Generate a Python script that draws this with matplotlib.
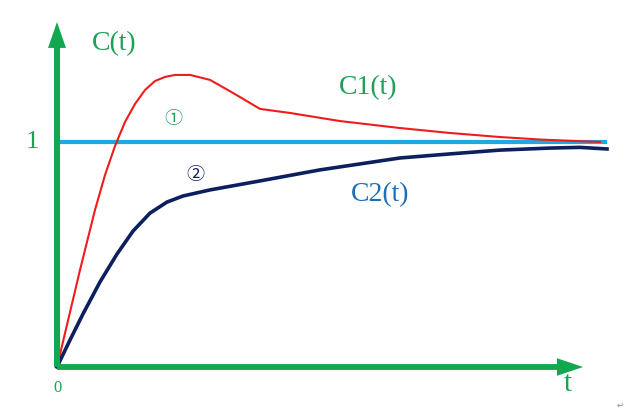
import matplotlib.pyplot as plt

# time axis in arbitrary units, response normalised so the steady value is 1
t_c1 = [0, 0.46, 0.76, 0.96, 1.16, 1.36, 1.56, 1.76, 1.96, 2.16, 2.36, 2.66,
        3.06, 3.52, 4.06, 4.66, 5.66, 6.86, 7.86, 8.86, 9.66, 10.4, 10.86]
c1 = [0, 0.431, 0.698, 0.853, 0.982, 1.089, 1.169, 1.231, 1.271, 1.289, 1.298, 1.298,
      1.276, 1.218, 1.147, 1.129, 1.093, 1.062, 1.04, 1.022, 1.011, 1.004, 1.0]

t_c2 = [0, 0.26, 0.52, 0.86, 1.20, 1.52, 1.86, 2.20, 2.52, 3.06, 4.06, 5.26,
        6.86, 7.86, 8.86, 9.86, 10.46, 11.0]
c2 = [0, 0.12, 0.236, 0.378, 0.502, 0.604, 0.684, 0.733, 0.76, 0.787, 0.827, 0.876,
      0.929, 0.947, 0.964, 0.973, 0.976, 0.969]

t_ref = [0, 11.0]
c_ref = [1, 1]

GREEN = "#12a84f"
TEXT_GREEN = "#1fa055"
SERIF = ["Liberation Serif", "Noto Sans CJK SC", "DejaVu Sans"]

fig = plt.figure(figsize=(6.28, 4.15), dpi=100)
ax = fig.add_axes([0, 0, 1, 1])
ax.set_xlim(-1.14, 11.42)
ax.set_ylim(-0.2133, 1.631)
ax.axis("off")

ax.plot(t_ref, c_ref, color="#1ea9e1", lw=3.0, solid_capstyle="butt", zorder=2)
ax.plot(t_c1, c1, color="#ee1c1c", lw=1.5, zorder=3)
ax.plot(t_c2, c2, color="#0c1f5e", lw=2.6, zorder=3)

# axes drawn as arrows (x: 50 px per unit, y: 225 px per unit)
ax.arrow(0, 0, 10.52, 0, width=0.026, head_width=0.078, head_length=0.52,
         length_includes_head=True, color=GREEN, lw=0, zorder=4)
ax.arrow(0, 0, 0, 1.533, width=0.12, head_width=0.36, head_length=0.115,
         length_includes_head=True, color=GREEN, lw=0, zorder=4)

ax.text(1.14, 1.436, "C(t)", color=TEXT_GREEN, fontsize=20, family=SERIF, ha="center", va="center")
ax.text(-0.5, 1.0, "1", color=TEXT_GREEN, fontsize=19, family=SERIF, ha="center", va="center")
ax.text(2.32, 1.102, "①", color=TEXT_GREEN, fontsize=13, family=SERIF, ha="center", va="center")
ax.text(2.76, 0.853, "②", color="#0c1f5e", fontsize=13, family=SERIF, ha="center", va="center")
ax.text(6.22, 1.24, "C1(t)", color=TEXT_GREEN, fontsize=20, family=SERIF, ha="center", va="center")
ax.text(6.46, 0.764, "C2(t)", color="#1f6fb8", fontsize=20, family=SERIF, ha="center", va="center")
ax.text(0.02, -0.093, "0", color=TEXT_GREEN, fontsize=12, family=SERIF, ha="center", va="center")
ax.text(10.22, -0.075, "t", color=TEXT_GREEN, fontsize=21, family=SERIF, ha="center", va="center")
ax.text(11.26, -0.169, "↵", color="#888888", fontsize=6, family=["DejaVu Sans"], ha="center", va="center")

fig.savefig("out.png", dpi=100)
